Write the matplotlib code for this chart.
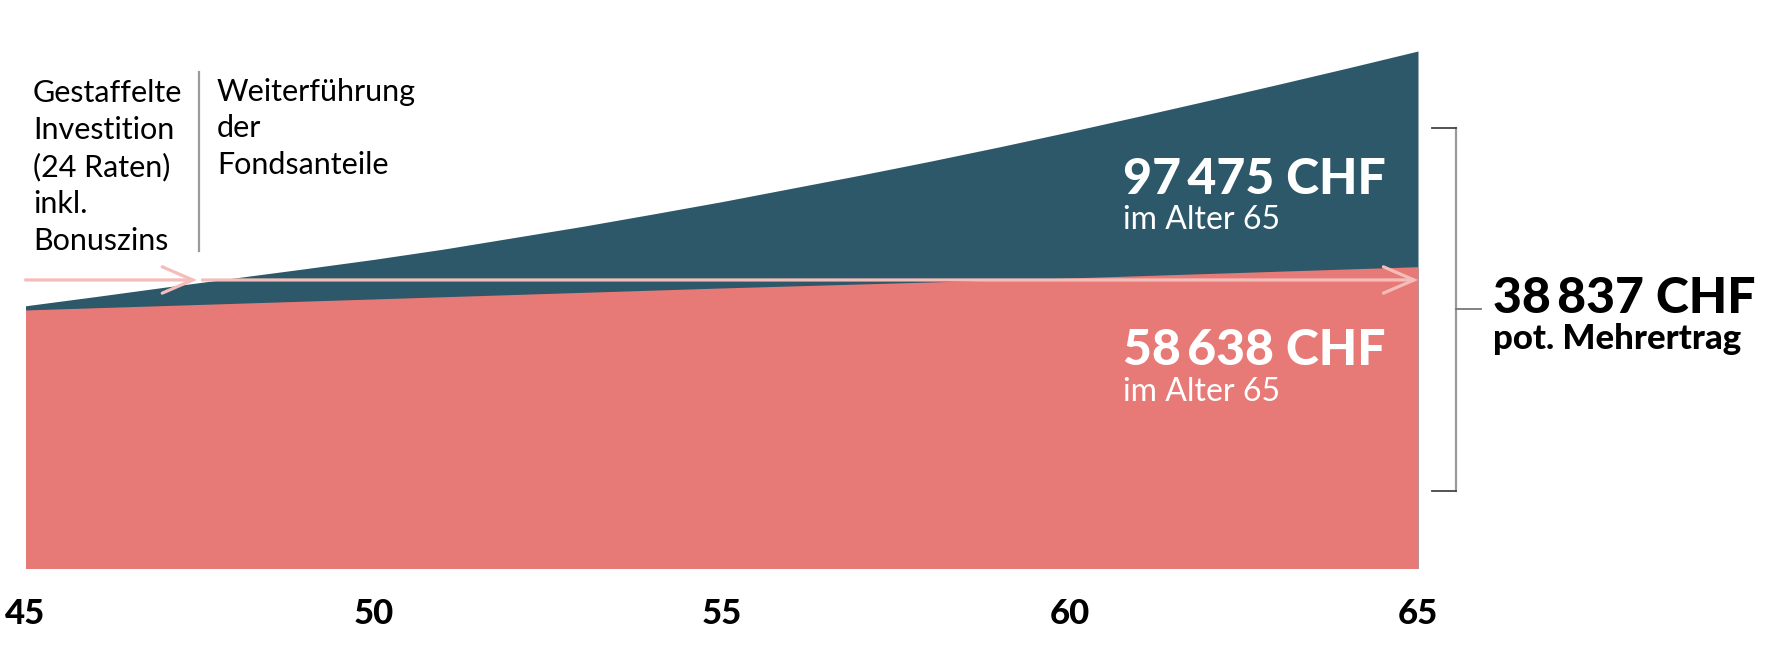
import matplotlib
matplotlib.use("Agg")
import matplotlib.pyplot as plt
from matplotlib.lines import Line2D

plt.rcParams['font.family'] = ['Lato', 'DejaVu Sans']

# ---- data ----
fund_ages = [45, 46, 47, 48, 49, 50, 51, 52, 53, 54, 55, 56, 57, 58, 59, 60, 61, 62, 63, 64, 65]
fund_values = [51600, 53250, 54950, 56600, 58250, 59950, 61800, 63850, 65900, 68100, 70350,
               72750, 75150, 77650, 80250, 82950, 85750, 88600, 91500, 94450, 97475]
savings_ages = [45, 50, 55, 60, 65]
savings_values = [50850, 52830, 54810, 56610, 58638]
x_ticks = [45, 50, 55, 60, 65]
x_ticklabels = ["45", "50", "55", "60", "65"]
phase_end_age = 47.48
arrow_level = 56250
label_sub = "im Alter 65"
label_gain = "pot. Mehrertrag"
phase1_text = "Gestaffelte\nInvestition\n(24 Raten)\ninkl.\nBonuszins"
phase2_text = "Weiterführung\nder\nFondsanteile"

DARK = "#2d5869"
RED = "#e77a77"
PINK = "#f5bdb9"

W, H = 1770, 672
fig = plt.figure(figsize=(W / 100, H / 100), dpi=100)

def fx(x):
    return x / W

def fy(y):
    return 1 - y / H

ax_left, ax_right, ax_bottom, ax_top = 25.5, 1418, 567.7, 51
ax = fig.add_axes([fx(ax_left), fy(ax_bottom), (ax_right - ax_left) / W, (ax_bottom - ax_top) / H])
ax.set_xlim(45, 65)
ax.set_ylim(4443, 97475)

ax.fill_between(fund_ages, 0, fund_values, color=DARK, lw=0)
ax.fill_between(savings_ages, 0, savings_values, color=RED, lw=0)

for s in ax.spines.values():
    s.set_visible(False)
ax.set_yticks([])
ax.set_xticks(x_ticks)
ax.set_xticklabels(x_ticklabels, fontsize=25, fontweight='black', color='black')
ax.tick_params(axis='x', length=0, pad=22)

# arrows
arrow_style = '->,head_length=2.2,head_width=0.95'
ax.annotate('', xy=(phase_end_age - 0.02, arrow_level), xytext=(45, arrow_level),
            arrowprops=dict(arrowstyle=arrow_style, color=PINK, lw=2.3,
                            shrinkA=0, shrinkB=0, joinstyle='miter'))
ax.annotate('', xy=(65, arrow_level), xytext=(phase_end_age + 0.06, arrow_level),
            arrowprops=dict(arrowstyle=arrow_style, color=PINK, lw=2.3,
                            shrinkA=0, shrinkB=0, joinstyle='miter'))

# phase separator
fig.add_artist(Line2D([fx(199), fx(199)], [fy(72), fy(251)], color='#9a9a9a', lw=1.6))

# multiline baseline alignment refers to the last line
fig.text(fx(33), fy(250), phase1_text, fontsize=22, color='black', va='baseline',
         ha='left', linespacing=1.38)
fig.text(fx(217), fy(174), phase2_text, fontsize=22, color='black', va='baseline',
         ha='left', linespacing=1.38)

def fmt(v):
    return f"{v:,}".replace(",", "\u2009") + " CHF"

fund_final = fund_values[-1]
sav_final = savings_values[-1]
gain = fund_final - sav_final

fig.text(fx(1123), fy(194), fmt(fund_final), fontsize=36, fontweight='black', color='white',
         va='baseline', ha='left')
fig.text(fx(1123), fy(229), label_sub, fontsize=23, color='white', va='baseline', ha='left')
fig.text(fx(1123), fy(365), fmt(sav_final), fontsize=36, fontweight='black', color='white',
         va='baseline', ha='left')
fig.text(fx(1123), fy(401), label_sub, fontsize=23, color='white', va='baseline', ha='left')

fig.text(fx(1493), fy(313), fmt(gain), fontsize=36, fontweight='black', color='black',
         va='baseline', ha='left')
fig.text(fx(1493), fy(349), label_gain, fontsize=25, fontweight='black', color='black',
         va='baseline', ha='left')

# bracket
fig.add_artist(Line2D([fx(1456), fx(1456)], [fy(128), fy(491)], color='#9a9a9a', lw=1.6))
fig.add_artist(Line2D([fx(1432), fx(1456)], [fy(128), fy(128)], color='#444444', lw=1.3))
fig.add_artist(Line2D([fx(1432), fx(1456)], [fy(491), fy(491)], color='#444444', lw=1.3))
fig.add_artist(Line2D([fx(1456), fx(1481)], [fy(309), fy(309)], color='#777777', lw=1.3))

fig.savefig("out.png", dpi=100, facecolor='white')
